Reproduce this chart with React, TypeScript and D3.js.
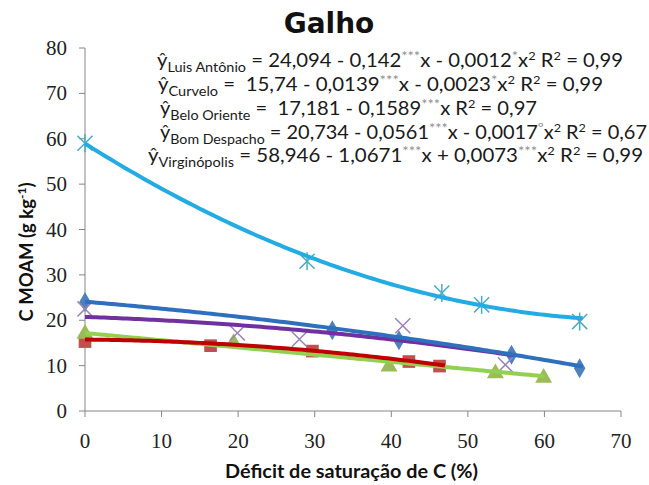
import React from 'react';
import * as d3 from 'd3';

const W = 649;
const H = 485;

const xTicks = [0, 10, 20, 30, 40, 50, 60, 70];
const yTicks = [0, 10, 20, 30, 40, 50, 60, 70, 80];

// Observed points
const laX = [0, 32.3, 41, 55.7, 64.6];
const laY = [24, 17.8, 15.6, 12.4, 9.4];
const cuX = [0, 16.4, 29.7, 42.3, 46.3];
const cuY = [15.3, 14.4, 13.2, 10.9, 9.9];
const boX = [0, 19.4, 39.7, 53.6, 59.9];
const boY = [17, 15, 9.8, 8.3, 7.3];
const bdX = [0, 19.9, 28, 41.5, 54.9];
const bdY = [22.5, 17.2, 15.8, 18.8, 10.2];
const viX = [0, 29, 46.6, 51.8, 64.6];
const viY = [59, 33, 26, 23.4, 19.7];

// Trendline coefficients (from the equations in the chart) and ranges
const laCoef = [24.094, -0.142, -0.0012];
const cuCoef = [15.74, -0.0139, -0.0023];
const boCoef = [17.181, -0.1589, 0];
const bdCoef = [20.734, -0.0561, -0.0017];
const viCoef = [58.946, -1.0671, 0.0073];
const laRange = [0, 65];
const cuRange = [0, 47];
const boRange = [0, 60];
const bdRange = [0, 56];
const viRange = [0, 65];

type Seg = [string, string];
const eq1: Seg[] = [['ŷ', 'n'], ['Luis Antônio', 'sub'], [' = 24,094 - 0,142', 'n'], ['***', 'star'], ['x - 0,0012', 'n'], ['*', 'star'], ['x', 'n'], ['2', 'sup'], [' R', 'n'], ['2', 'sup'], [' = 0,99', 'n']];
const eq2: Seg[] = [['ŷ', 'n'], ['Curvelo', 'sub'], [' =  15,74 - 0,0139', 'n'], ['***', 'star'], ['x - 0,0023', 'n'], ['*', 'star'], ['x', 'n'], ['2', 'sup'], [' R', 'n'], ['2', 'sup'], [' = 0,99', 'n']];
const eq3: Seg[] = [['ŷ', 'n'], ['Belo Oriente', 'sub'], [' =  17,181 - 0,1589', 'n'], ['***', 'star'], ['x R', 'n'], ['2', 'sup'], [' = 0,97', 'n']];
const eq4: Seg[] = [['ŷ', 'n'], ['Bom Despacho', 'sub'], [' = 20,734 - 0,0561', 'n'], ['***', 'star'], ['x - 0,0017', 'n'], ['º', 'star'], ['x', 'n'], ['2', 'sup'], [' R', 'n'], ['2', 'sup'], [' = 0,67', 'n']];
const eq5: Seg[] = [['ŷ', 'n'], ['Virginópolis', 'sub'], [' = 58,946 - 1,0671', 'n'], ['***', 'star'], ['x + 0,0073', 'n'], ['***', 'star'], ['x', 'n'], ['2', 'sup'], [' R', 'n'], ['2', 'sup'], [' = 0,99', 'n']];

const equations = [eq1, eq2, eq3, eq4, eq5];
const eqX = [157, 158, 160, 160, 148];
const eqY = [67, 91, 115, 139, 162];
const eqW = [466, 445, 377, 487, 495];

const x = d3.scaleLinear().domain([0, 70]).range([85, 621]);
const y = d3.scaleLinear().domain([0, 80]).range([411, 48]);

const curve = (coef: number[], range: number[]) => {
  const xs = d3.range(range[0], range[1] + 0.001, 0.5);
  const line = d3.line<number>().x((v) => x(v)).y((v) => y(coef[0] + coef[1] * v + coef[2] * v * v));
  return line(xs) || '';
};

const MAIN = 19;
const offsets: Record<string, number> = { n: 0, sub: 5, sup: -7, star: -6 };
const sizes: Record<string, number> = { n: MAIN, sub: 13.5, sup: 12, star: 14 };

const renderEq = (segs: Seg[], i: number) => {
  let cur = 0;
  const out = segs.map((s, k) => {
    const [t, kind] = s;
    const target = offsets[kind];
    const dy = target - cur;
    cur = target;
    return (
      <tspan key={k} fontSize={sizes[kind]} dy={dy} fill={kind === 'star' ? '#8f8f8f' : undefined}>{t}</tspan>
    );
  });
  return (
    <text key={i} x={eqX[i]} y={eqY[i]} textLength={eqW[i]} lengthAdjust="spacingAndGlyphs"
      fontFamily="Lato, 'Open Sans', sans-serif" fill="#1a1a1a" style={{ whiteSpace: 'pre' }}>
      {out}
    </text>
  );
};

const diamond = d3.symbol().type(d3.symbolDiamond).size(115)() || '';
const square = d3.symbol().type(d3.symbolSquare).size(160)() || '';
const triangle = d3.symbol().type(d3.symbolTriangle).size(125)() || '';
const cross = d3.symbol().type(d3.symbolTimes).size(150)() || '';

export default function App() {
  const axisColor = '#868686';
  return (
    <svg width={W} height={H} style={{ position: 'fixed', left: 0, top: 0, background: '#fff' }}>
      <rect x={0} y={0} width={W} height={H} fill="#fff" />
      {/* title */}
      <text x={329} y={33} textAnchor="middle" fontFamily="'DejaVu Sans', sans-serif" fontWeight="bold" fontSize={28} fill="#111">Galho</text>

      {/* axes */}
      <line x1={x(0)} x2={x(0)} y1={y(80)} y2={y(0)} stroke={axisColor} strokeWidth={1} />
      <line x1={x(0)} x2={x(70)} y1={y(0)} y2={y(0)} stroke={axisColor} strokeWidth={1} />
      {yTicks.map((t) => (
        <g key={'y' + t}>
          <line x1={x(0) - 6} x2={x(0)} y1={y(t)} y2={y(t)} stroke={axisColor} />
          <text x={67} y={y(t) + 7} textAnchor="end" fontFamily="'Liberation Serif', serif" fontSize={21} fill="#222">{t}</text>
        </g>
      ))}
      {xTicks.map((t) => (
        <g key={'x' + t}>
          <line x1={x(t)} x2={x(t)} y1={y(0)} y2={y(0) + 6} stroke={axisColor} />
          <text x={x(t)} y={448} textAnchor="middle" fontFamily="'Liberation Serif', serif" fontSize={21} fill="#222">{t}</text>
        </g>
      ))}

      {/* axis titles */}
      <text x={351.5} y={478} textAnchor="middle" textLength={253} lengthAdjust="spacingAndGlyphs"
        fontFamily="Lato, sans-serif" fontWeight="bold" fontSize={18} fill="#111">Déficit de saturação de C (%)</text>
      <text transform={`translate(33,252) rotate(-90)`} textAnchor="middle" fontFamily="Lato, sans-serif" fontWeight="bold" fontSize={18.5} fill="#111">
        C MOAM (g kg<tspan dy={-7} fontSize={12}>-1</tspan><tspan dy={7}>)</tspan>
      </text>

      {/* markers */}
      {cuX.map((v, i) => (
        <path key={'cu' + i} d={square} transform={`translate(${x(v)},${y(cuY[i])})`} fill="#C0504D" />
      ))}
      {boX.map((v, i) => (
        <path key={'bo' + i} d={triangle} transform={`translate(${x(v)},${y(boY[i])})`} fill="#9BBB59" />
      ))}
      {laX.map((v, i) => (
        <path key={'la' + i} d={diamond} transform={`translate(${x(v)},${y(laY[i])})`} fill="#4F81BD" />
      ))}
      {bdX.map((v, i) => (
        <path key={'bd' + i} d={cross} transform={`translate(${x(v)},${y(bdY[i])})`} fill="none" stroke="#9983B8" strokeWidth={1.5} />
      ))}
      {viX.map((v, i) => (
        <g key={'vi' + i} transform={`translate(${x(v)},${y(viY[i])})`} stroke="#4BACC6" strokeWidth={1.5}>
          <path d={cross} fill="none" />
          <line x1={0} x2={0} y1={-9} y2={9} />
        </g>
      ))}

      {/* trendlines */}
      <path d={curve(boCoef, boRange)} fill="none" stroke="#92D050" strokeWidth={4} />
      <path d={curve(cuCoef, cuRange)} fill="none" stroke="#C00000" strokeWidth={4} />
      <path d={curve(bdCoef, bdRange)} fill="none" stroke="#7030A0" strokeWidth={4} />
      <path d={curve(laCoef, laRange)} fill="none" stroke="#2E6FBE" strokeWidth={4} />
      <path d={curve(viCoef, viRange)} fill="none" stroke="#22ACE3" strokeWidth={4} />

      {/* equations */}
      {equations.map((e, i) => renderEq(e, i))}
    </svg>
  );
}
